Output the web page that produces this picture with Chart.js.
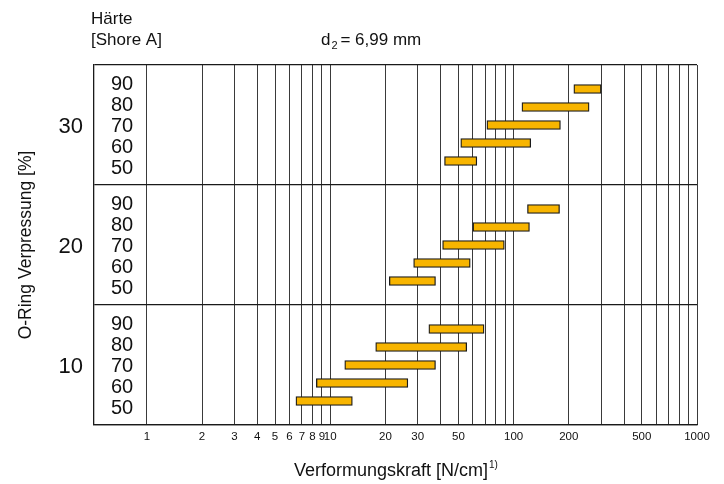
<!DOCTYPE html>
<html>
<head>
<meta charset="utf-8">
<script src="https://cdn.jsdelivr.net/npm/chart.js@4/dist/chart.umd.min.js"></script>
<style>
  html, body { margin: 0; padding: 0; background: #fff; }
  canvas { display: block; }
</style>
</head>
<body>
<canvas id="chart" width="724" height="484"></canvas>
<script>
// O-ring compression bands [%] and Shore A hardness rows within each band
const compression = [30, 20, 10];
const hardness = [90, 80, 70, 60, 50];

// Deformation force ranges [N/cm], per hardness row (90 ... 50)
const force30Min = [213, 111, 71.5, 51.5, 42];
const force30Max = [300, 258, 180, 124, 63];
const force20Min = [119, 60, 41, 28.5, 21];
const force20Max = [178, 122, 89, 58, 37.5];
const force10Min = [34.5, 17.7, 12, 8.4, 6.5];
const force10Max = [69, 55.5, 37.5, 26.5, 13.2];

// Log axis grid and labelled ticks
const xGridValues = [1,2,3,4,5,6,7,8,9,10,20,30,40,50,60,70,80,90,100,200,300,400,500,600,700,800,900,1000];
const xTickLabels = [1,2,3,4,5,6,7,8,9,10,20,30,50,100,200,500,1000];

const FONT = "'Liberation Sans', Arial, Helvetica, sans-serif";
const minByBand = [force30Min, force20Min, force10Min];
const maxByBand = [force30Max, force20Max, force10Max];

// vertical position inside a band: each band spans 10 units around its compression value
const barOffset = h => (h - 70) / 10 * 1.5;
const labelOffset = h => (h - 70) / 10 * 1.75;

const bars = [];
compression.forEach((c, b) => {
  hardness.forEach((h, r) => {
    bars.push({ x: [minByBand[b][r], maxByBand[b][r]], y: c + barOffset(h) });
  });
});

const annotations = {
  id: 'annotations',
  afterDraw(chart) {
    const ctx = chart.ctx;
    const yScale = chart.scales.y;
    ctx.save();
    ctx.fillStyle = '#111';
    ctx.textBaseline = 'alphabetic';

    // hardness labels in the left cell, compression labels outside the box
    compression.forEach(c => {
      ctx.font = '20px ' + FONT;
      ctx.textAlign = 'center';
      hardness.forEach(h => {
        const y = yScale.getPixelForValue(c + labelOffset(h));
        ctx.fillText(String(h), 122, y + 7);
      });
      ctx.font = '22px ' + FONT;
      ctx.textAlign = 'right';
      ctx.fillText(String(c), 83, yScale.getPixelForValue(c) + 8);
    });

    // y-axis title
    ctx.save();
    ctx.translate(31, 245);
    ctx.rotate(-Math.PI / 2);
    ctx.font = '17.5px ' + FONT;
    ctx.textAlign = 'center';
    ctx.fillText('O-Ring Verpressung [%]', 0, 0);
    ctx.restore();

    // x-axis title with footnote mark
    ctx.textAlign = 'left';
    ctx.font = '18px ' + FONT;
    const xt = 'Verformungskraft [N/cm]';
    ctx.fillText(xt, 294, 476);
    const w = ctx.measureText(xt).width;
    ctx.font = '10px ' + FONT;
    ctx.fillText('1)', 294 + w + 1, 468);

    // header
    ctx.font = '17px ' + FONT;
    ctx.fillText('Härte', 91, 24);
    ctx.fillText('[Shore A]', 91, 45);
    ctx.fillText('d', 321, 45);
    const dw = ctx.measureText('d').width;
    ctx.font = '11px ' + FONT;
    ctx.fillText('2', 321 + dw + 1, 49);
    ctx.font = '17px ' + FONT;
    ctx.fillText('= 6,99 mm', 321 + dw + 10, 45);
    ctx.restore();
  }
};

new Chart(document.getElementById('chart'), {
  type: 'bar',
  data: {
    datasets: [{
      data: bars,
      backgroundColor: '#F8B500',
      borderColor: '#1a1a1a',
      borderWidth: 1.3,
      borderSkipped: false,
      barThickness: 9
    }]
  },
  options: {
    indexAxis: 'y',
    responsive: false,
    animation: false,
    layout: { padding: { top: 65, right: 27, left: 0, bottom: 0 } },
    plugins: { legend: { display: false }, tooltip: { enabled: false } },
    scales: {
      x: {
        type: 'logarithmic',
        min: 0.515,
        max: 1000,
        offset: false,
        afterBuildTicks(scale) {
          scale.ticks = xGridValues.map(v => ({ value: v }));
        },
        afterFit(scale) { scale.height = 59; },
        grid: { color: '#3a3a3a', lineWidth: 1, drawTicks: false, offset: false },
        border: { display: true, color: '#1a1a1a', width: 1.3 },
        ticks: {
          autoSkip: false,
          maxRotation: 0,
          padding: 5,
          color: '#111',
          font: { family: FONT, size: 11.5 },
          callback: v => xTickLabels.includes(v) ? String(v) : ''
        }
      },
      y: {
        type: 'linear',
        min: 5,
        max: 35,
        offset: false,
        afterBuildTicks(scale) {
          scale.ticks = [5, 15, 25, 35].map(v => ({ value: v }));
        },
        afterFit(scale) { scale.width = 94; },
        grid: { color: '#1a1a1a', lineWidth: 1.3, drawTicks: false, offset: false },
        border: { display: true, color: '#1a1a1a', width: 1.3 },
        ticks: { display: false }
      }
    }
  },
  plugins: [annotations]
});
</script>
</body>
</html>
